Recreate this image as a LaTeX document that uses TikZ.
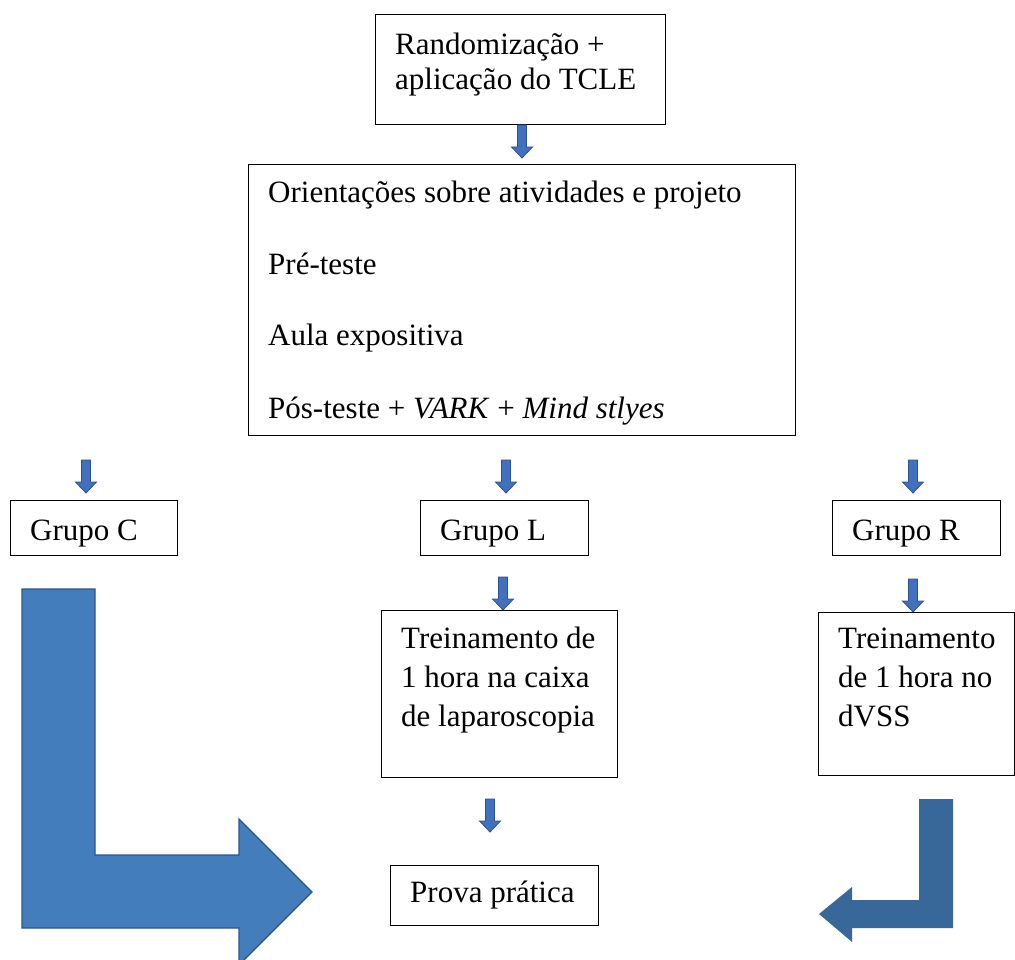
\documentclass[tikz,border=0pt]{standalone}
\usepackage{fontspec}
\setmainfont{Liberation Serif}
\begin{document}
\begin{tikzpicture}[x=1pt,y=-1pt,
  box/.style={draw=black,line width=1pt,inner sep=0pt},
  txt/.style={anchor=base west,inner sep=0pt,font=\fontsize{31}{37}\selectfont},
  darr/.pic={\filldraw[fill=arrowblue,draw=arrowdark,line width=0.8pt]
     (-4.5,0) -- (4.5,0) -- (4.5,22) -- (10.5,22) -- (0,33) -- (-10.5,22) -- (-4.5,22) -- cycle;}]
\definecolor{arrowblue}{HTML}{4170BE}
\definecolor{arrowdark}{HTML}{2F528F}
\definecolor{bigblue}{HTML}{447DBC}
\definecolor{bigdark}{HTML}{2A5690}
\definecolor{rightblue}{HTML}{376899}
\useasboundingbox (0,0) rectangle (1015,960);
% boxes
\draw[box] (375,15) rectangle (665,125);
\draw[box] (248,165) rectangle (795,435);
\draw[box] (10,500) rectangle (177,555);
\draw[box] (420,500) rectangle (588,555);
\draw[box] (832,500) rectangle (1000,555);
\draw[box] (381,610) rectangle (617,777);
\draw[box] (818,612) rectangle (1014.5,775);
\draw[box] (390,865) rectangle (598,925);
% texts
\node[txt] (t1a) at (395,55) {Randomização +};
\node[txt] (t1b) at (395,90) {aplicação do TCLE};
\node[txt] (t2a) at (268,203) {Orientações sobre atividades e projeto};
\node[txt] (t2b) at (268,275) {Pré-teste};
\node[txt] (t2c) at (268,345) {Aula expositiva};
\node[txt] (t2d) at (268,418) {Pós-teste + \textit{VARK} + \textit{Mind stlyes}};
\node[txt] (gc) at (30,540) {Grupo C};
\node[txt] (gl) at (440,540) {Grupo L};
\node[txt] (gr) at (852,540) {Grupo R};
\node[txt] (tla) at (401,648) {Treinamento de};
\node[txt] (tlb) at (401,687) {1 hora na caixa};
\node[txt] (tlc) at (401,726) {de laparoscopia};
\node[txt] (tra) at (838,648) {Treinamento};
\node[txt] (trb) at (838,687) {de 1 hora no};
\node[txt] (trc) at (838,726) {dVSS};
\node[txt] (pp) at (410,902) {Prova prática};
% small arrows
\pic at (522,125) {darr};
\pic at (86,460) {darr};
\pic at (506,460) {darr};
\pic at (913,460) {darr};
\pic at (503,577) {darr};
\pic at (913,579) {darr};
\pic at (490,799) {darr};
% big L arrow
\filldraw[fill=bigblue,draw=bigdark,line width=1.2pt]
  (22,589) -- (95,589) -- (95,855) -- (239,855) -- (239,819) -- (312,892)
  -- (239,965) -- (239,928) -- (22,928) -- cycle;
% right bent arrow
\fill[rightblue]
  (919,799) -- (953,799) -- (953,928) -- (852,928) -- (852,942) -- (819,914)
  -- (852,887) -- (852,900) -- (919,900) -- cycle;
\end{tikzpicture}
\end{document}
